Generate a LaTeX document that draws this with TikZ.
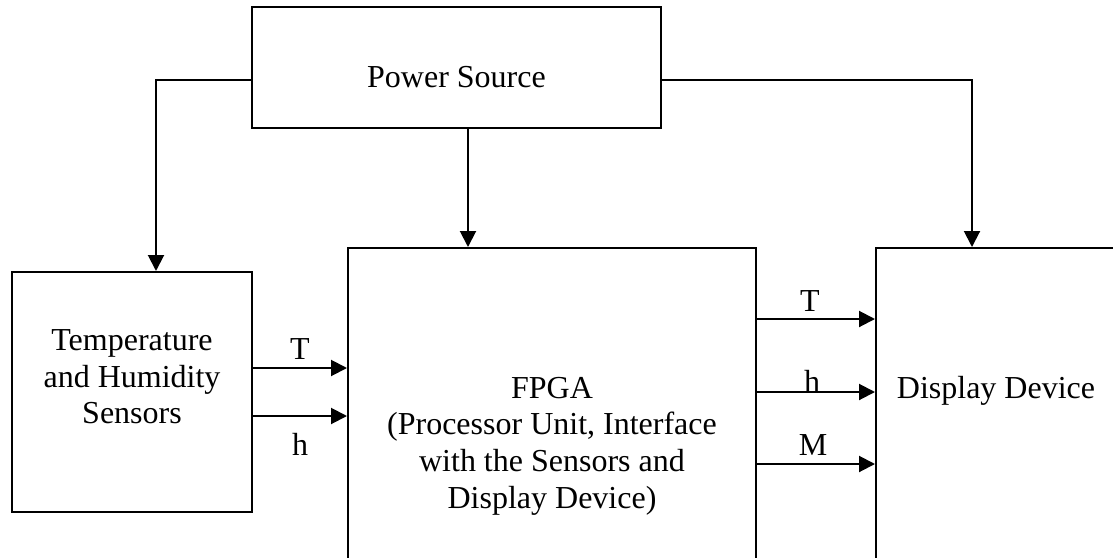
\documentclass[tikz,border=0pt]{standalone}
\usepackage{fontspec}
\setmainfont{Liberation Serif}
\usetikzlibrary{arrows.meta}

\begin{document}
\begin{tikzpicture}[x=0.5pt,y=-0.5pt,
    block/.style={draw,line width=1pt,inner sep=0pt},
    txt/.style={font=\fontsize{16}{18.3}\selectfont,align=center,inner sep=0pt},
    lbl/.style={font=\fontsize{16}{18.3}\selectfont,inner sep=0pt,anchor=base},
    conn/.style={line width=1pt,-{Triangle[length=8pt,width=8pt]}}]
  \useasboundingbox (0,0) rectangle (1113,557);
  \clip (0,0) rectangle (1113,557);
  % the four blocks
  \node[block,minimum width=204.5pt,minimum height=60.5pt] (pow) at (456.5,67.5){};
  \node[block,minimum width=120pt,minimum height=120pt] (sens) at (132,392){};
  \node[block,minimum width=204pt,minimum height=200pt] (fpga) at (552,448){};
  \node[block,minimum width=122pt,minimum height=200pt] (disp) at (998,448){};
  % texts in the blocks
  \node[lbl] (powtxt) at (456.5,87){Power Source};
  \node[txt] (senstxt) at (132,377){Temperature\\and Humidity\\Sensors};
  \node[txt] (fpgatxt) at (552,446){FPGA\\(Processor Unit, Interface\\with the Sensors and\\Display Device)};
  \node[lbl] (disptxt) at (996,398){Display Device};
  % power lines
  \draw[conn] (pow.west |- 0,80) -| (sens.north -| 156,0);
  \draw[conn] (pow.south -| 468,0) -- (fpga.north -| 468,0);
  \draw[conn] (pow.east |- 0,80) -| (disp.north -| 972,0);
  % sensor outputs
  \draw[conn] (sens.east |- 0,368) -- node[lbl,yshift=4.5pt]{T} (fpga.west |- 0,368);
  \draw[conn] (sens.east |- 0,416) -- node[lbl,yshift=-19.5pt]{h} (fpga.west |- 0,416);
  % outputs to the display
  \draw[conn] (fpga.east |- 0,319) -- node[lbl,yshift=4pt,xshift=-3pt]{T} (disp.west |- 0,319);
  \draw[conn] (fpga.east |- 0,392) -- node[lbl,xshift=-2pt]{h} (disp.west |- 0,392);
  \draw[conn] (fpga.east |- 0,464) -- node[lbl,yshift=4.5pt,xshift=-1.5pt]{M} (disp.west |- 0,464);
\end{tikzpicture}
\end{document}
